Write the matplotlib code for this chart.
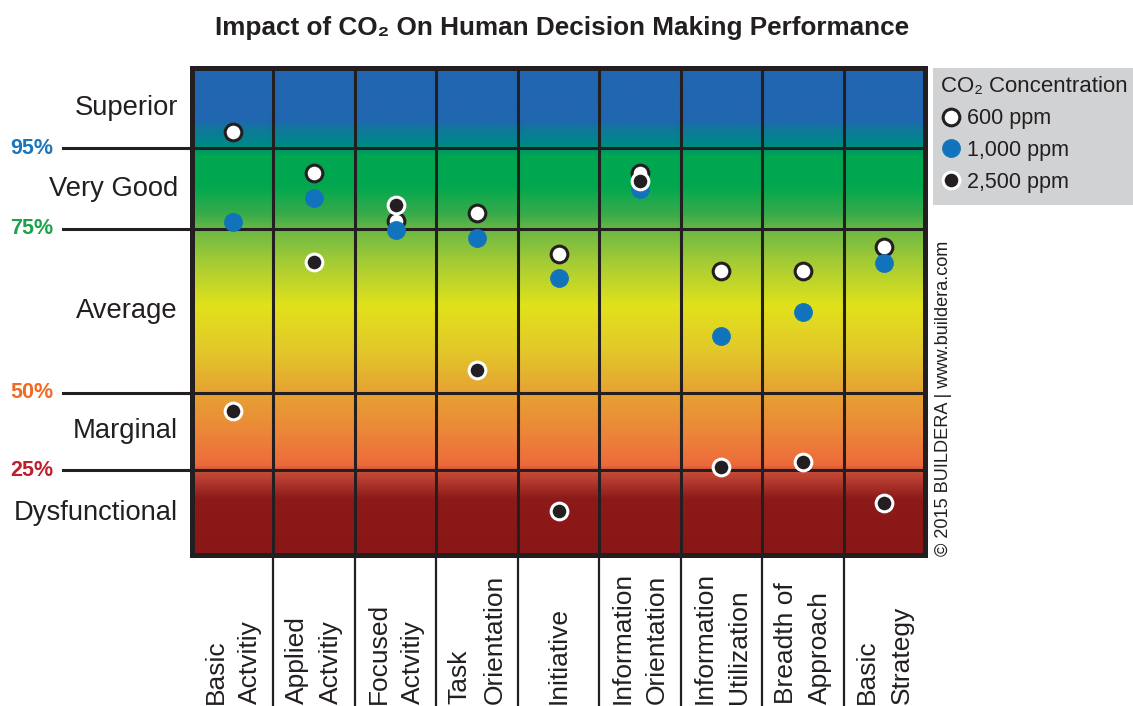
import numpy as np
import matplotlib
matplotlib.use("Agg")
import matplotlib.pyplot as plt
from matplotlib.colors import LinearSegmentedColormap
from matplotlib.scale import FuncScale
from matplotlib.transforms import blended_transform_factory
from matplotlib.patches import Rectangle

plt.rcParams['font.family'] = ['Liberation Sans', 'DejaVu Sans']

# ---------------- data ----------------
categories = ["Basic\nActvitiy", "Applied\nActvitiy", "Focused\nActvitiy", "Task\nOrientation",
              "Initiative", "Information\nOrientation", "Information\nUtilization",
              "Breadth of\nApproach", "Basic\nStrategy"]
ppm_600 = [96.0, 88.8, 77.0, 79.0, 71.2, 88.8, 68.6, 68.6, 72.3]
ppm_1000 = [76.7, 82.7, 74.8, 73.6, 67.5, 84.9, 58.7, 62.3, 69.8]
ppm_2500 = [44.2, 70.0, 80.9, 53.5, 12.9, 86.9, 26.0, 27.6, 15.3]
series_labels = ["600 ppm", "1,000 ppm", "2,500 ppm"]

band_edges = [0, 25, 50, 75, 95, 100]
band_names = ["Dysfunctional", "Marginal", "Average", "Very Good", "Superior"]
threshold_values = [95, 75, 50, 25]
threshold_labels = ["95%", "75%", "50%", "25%"]
threshold_colors = ["#1c75bc", "#1ba24b", "#f26b25", "#be1e2d"]

# band heights on the chart (relative, as drawn: bands are not proportional)
band_pos = [0, 85, 162, 326, 407, 487]

def fwd(v):
    return np.interp(v, band_edges, band_pos)

def inv(p):
    return np.interp(p, band_pos, band_edges)

W, H = 1133, 706
fig = plt.figure(figsize=(W / 100, H / 100), dpi=100)
ax = fig.add_axes([192 / W, (H - 555) / H, 733 / W, 487 / H])
ax.set_yscale(FuncScale(ax, (fwd, inv)))
ax.set_ylim(0, 100)
ax.set_xlim(-0.5, len(categories) - 0.5)
ax.set_xticks([])
ax.set_yticks([])
ax.minorticks_off()

dark = "#231f20"

# background gradient
stops = [
    (0.000, "#8a1717"),
    (0.113, "#8c1a18"),
    (0.168, "#c64a38"),
    (0.185, "#ee6b3b"),
    (0.260, "#eb8a38"),
    (0.333, "#e6a233"),
    (0.420, "#e3c82a"),
    (0.513, "#e1e21b"),
    (0.600, "#a6cc35"),
    (0.669, "#6bb844"),
    (0.700, "#3aab4b"),
    (0.760, "#00a84f"),
    (0.822, "#00a651"),
    (0.845, "#00878a"),
    (0.870, "#0a7d95"),
    (0.895, "#2166b0"),
    (1.000, "#2166b0"),
]
cmap = LinearSegmentedColormap.from_list("bg", stops)
grad = np.linspace(0, 1, 600).reshape(-1, 1)
ax.imshow(grad, cmap=cmap, aspect='auto', origin='lower', extent=[0, 1, 0, 1],
          transform=ax.transAxes, zorder=0, interpolation='bilinear')

# grid lines
for xb in np.arange(0.5, len(categories) - 0.5, 1.0):
    ax.axvline(xb, color=dark, lw=2.2, zorder=1)
    ax.plot([xb, xb], [0, -0.32], color=dark, lw=1.6, clip_on=False,
            transform=blended_transform_factory(ax.transData, ax.transAxes))
ty = blended_transform_factory(ax.transAxes, ax.transData)
for v, lab, c in zip(threshold_values, threshold_labels, threshold_colors):
    ax.plot([-0.176, 1], [v, v], color=dark, lw=2.2, clip_on=False, transform=ty, zorder=1)
    ax.text(-0.1896, v, lab, transform=ty, ha='right', va='center', fontsize=15.5,
            fontweight='bold', color=c)

for i, name in enumerate(band_names):
    mid = inv((fwd(band_edges[i]) + fwd(band_edges[i + 1])) / 2)
    ax.text(-0.019, mid, name, transform=ty, ha='right', va='center', fontsize=19.7,
            color=dark)

for s in ax.spines.values():
    s.set_linewidth(3.6)
    s.set_color(dark)
    s.set_zorder(10)

x = np.arange(len(categories))
h1, = ax.plot(x, ppm_600, 'o', ms=12, mfc='white', mec=dark, mew=2.2, zorder=3, label=series_labels[0])
h2, = ax.plot(x, ppm_1000, 'o', ms=13, mfc='#1173bb', mec='#1173bb', mew=0.5, zorder=4, label=series_labels[1])
h3, = ax.plot(x, ppm_2500, 'o', ms=12, mfc=dark, mec='white', mew=2.2, zorder=5, label=series_labels[2])

# category labels
tb = blended_transform_factory(ax.transData, fig.transFigure)
for i, c in enumerate(categories):
    ax.text(i, 0.0025, c, transform=tb, rotation=90, rotation_mode='anchor',
            ha='left', va='center', fontsize=19, color=dark, linespacing=1.55,
            clip_on=False)

# title
fig.text(0.496, 1 - 28 / H, "Impact of CO₂ On Human Decision Making Performance",
         ha='center', va='center', fontsize=18.8, fontweight='bold', color=dark)

# legend
fig.patches.append(Rectangle((933 / W, 1 - 205 / H), 200 / W, 137 / H,
                             transform=fig.transFigure, facecolor='#d1d2d4',
                             edgecolor='none', zorder=-1))
leg = fig.legend(handles=[h1, h2, h3], labels=series_labels, loc='upper left',
                 bbox_to_anchor=(935 / W, 1 - 70 / H), frameon=False,
                 title="CO₂ Concentration", title_fontsize=16, fontsize=15.5,
                 handletextpad=0.3, handlelength=0.9, borderaxespad=0, borderpad=0.3,
                 labelspacing=0.5, alignment='left')
leg.set_zorder(5)
for t in leg.get_texts():
    t.set_color(dark)
leg.get_title().set_color(dark)

# copyright
fig.text(943 / W, (H - 556) / H, "© 2015 BUILDERA | www.buildera.com", rotation=90,
         rotation_mode='anchor', ha='left', va='center', fontsize=13.1, color=dark)

fig.savefig("out.png", dpi=100)
